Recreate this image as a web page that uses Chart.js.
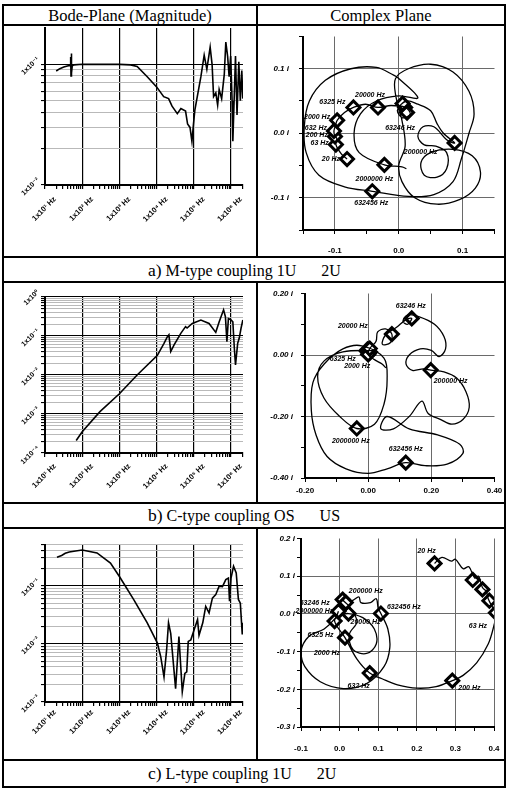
<!DOCTYPE html>
<html>
<head>
<meta charset="utf-8">
<script src="https://cdn.jsdelivr.net/npm/chart.js@4.4.0/dist/chart.umd.min.js"></script>
<style>
  body { margin: 0; background: #fff; width: 507px; height: 789px; position: relative; overflow: hidden;
         font-family: "Liberation Serif", "Times New Roman", serif; }
  .ln { position: absolute; background: #000; }
  .hd { position: absolute; font-size: 16.5px; line-height: 19px; text-align: center; top: 6px; }
  .cap { position: absolute; left: 148px; font-size: 16px; line-height: 20px; white-space: nowrap; }
  .cap b { font-weight: normal; font-size: 17.5px; }
  .cap span { margin-left: 25px; }
  canvas { position: absolute; }
</style>
</head>
<body>
<!-- frame -->
<div class="ln" style="left:2px;top:4px;width:504px;height:2px"></div>
<div class="ln" style="left:2px;top:24px;width:504px;height:2px"></div>
<div class="ln" style="left:2px;top:256px;width:504px;height:2px"></div>
<div class="ln" style="left:2px;top:281px;width:504px;height:2px"></div>
<div class="ln" style="left:2px;top:502px;width:504px;height:2px"></div>
<div class="ln" style="left:2px;top:527px;width:504px;height:2px"></div>
<div class="ln" style="left:2px;top:759px;width:504px;height:2px"></div>
<div class="ln" style="left:2px;top:786px;width:504px;height:2px"></div>
<div class="ln" style="left:2px;top:4px;width:2px;height:784px"></div>
<div class="ln" style="left:504px;top:4px;width:2px;height:784px"></div>
<div class="ln" style="left:256px;top:4px;width:2px;height:254px"></div>
<div class="ln" style="left:256px;top:281px;width:2px;height:223px"></div>
<div class="ln" style="left:256px;top:527px;width:2px;height:234px"></div>

<div class="hd" style="left:4px;width:252px">Bode-Plane (Magnitude)</div>
<div class="hd" style="left:258px;width:246px">Complex Plane</div>
<div class="cap" style="top:260px"><b>a)</b> M-type coupling 1U<span>2U</span></div>
<div class="cap" style="top:505px"><b>b)</b> C-type coupling OS<span>US</span></div>
<div class="cap" style="top:763px"><b>c)</b> L-type coupling 1U<span>2U</span></div>

<canvas id="bodeA" width="252" height="229" style="left:4px;top:27px"></canvas>
<canvas id="planeA" width="246" height="229" style="left:258px;top:27px"></canvas>
<canvas id="bodeB" width="252" height="218" style="left:4px;top:284px"></canvas>
<canvas id="planeB" width="246" height="218" style="left:258px;top:284px"></canvas>
<canvas id="bodeC" width="252" height="230" style="left:4px;top:529px"></canvas>
<canvas id="planeC" width="246" height="230" style="left:258px;top:529px"></canvas>

<script>
// ---- Bode magnitude data (Hz, |Z|) ----
const freqA = [20, 25, 32, 40, 47, 49, 50, 51, 52, 54, 60, 100, 300, 1000, 2000, 3000, 5600, 10000, 15500, 21000,
  26000, 36000, 45000, 60000, 68000, 79000, 89000, 98000, 107000, 155000, 190000, 224000, 275000, 310000, 340000,
  390000, 437000, 480000, 560000, 660000, 725000, 810000, 890000, 980000, 1070000, 1120000, 1320000, 1450000,
  1620000, 1780000, 1950000, 2080000];
const magA = [0.088, 0.092, 0.095, 0.097, 0.098, 0.115, 0.080, 0.123, 0.085, 0.097, 0.099, 0.100, 0.100, 0.100, 0.099,
  0.096, 0.079, 0.065, 0.054, 0.052, 0.045, 0.039, 0.043, 0.041, 0.032, 0.030, 0.023, 0.032, 0.042, 0.079, 0.119,
  0.091, 0.139, 0.100, 0.054, 0.058, 0.046, 0.062, 0.052, 0.083, 0.153, 0.117, 0.079, 0.117, 0.050, 0.023, 0.117,
  0.038, 0.105, 0.050, 0.089, 0.052];

const freqB = [69, 100, 300, 1000, 3000, 10500, 15800, 19500, 21400, 24000, 29500, 44700, 60000, 66000, 91000,
  155000, 257000, 389000, 479000, 631000, 708000, 776000, 851000, 1000000, 1120000, 1230000, 1320000, 1510000,
  1660000, 1860000, 2080000];
const magB = [0.00021, 0.00035, 0.00115, 0.0033, 0.010, 0.032, 0.065, 0.096, 0.107, 0.040, 0.059, 0.117, 0.174,
  0.160, 0.210, 0.257, 0.210, 0.124, 0.230, 0.470, 0.310, 0.071, 0.280, 0.260, 0.230, 0.048, 0.018, 0.065, 0.087,
  0.158, 0.257];

const freqC = [21, 28, 35, 45, 60, 100, 250, 575, 1020, 2450, 5600, 10500, 12900, 15800, 18600, 20900, 24000, 32400,
  39800, 49000, 57500, 64600, 70800, 83200, 102000, 126000, 138000, 174000, 209000, 257000, 316000, 389000, 479000,
  589000, 724000, 851000, 912000, 1000000, 1170000, 1380000, 1580000, 1780000, 2000000, 2090000];
const magC = [0.307, 0.33, 0.36, 0.38, 0.39, 0.41, 0.365, 0.245, 0.141, 0.057, 0.023, 0.0103, 0.006, 0.0027, 0.0079,
  0.023, 0.015, 0.0017, 0.0134, 0.0015, 0.0031, 0.0033, 0.011, 0.0117, 0.0174, 0.026, 0.014, 0.023, 0.044, 0.034,
  0.061, 0.070, 0.098, 0.096, 0.127, 0.135, 0.054, 0.135, 0.215, 0.165, 0.058, 0.050, 0.015, 0.023];

const decadeTicks = [10, 100, 1000, 10000, 100000, 1000000];
const decadeLabels = ['1x10¹ Hz', '1x10² Hz', '1x10³ Hz', '1x10⁴ Hz', '1x10⁵ Hz', '1x10⁶ Hz'];
const magDecA = [0.01, 0.1];
const magLabA = ['1x10⁻²', '1x10⁻¹'];
const magDecB = [0.0001, 0.001, 0.01, 0.1, 1];
const magLabB = ['1x10⁻⁴', '1x10⁻³', '1x10⁻²', '1x10⁻¹', '1x10⁰'];
const magDecC = [0.001, 0.01, 0.1];
const magLabC = ['1x10⁻³', '1x10⁻²', '1x10⁻¹'];

// ---- Complex plane data (Re, Im) ----
const reA = [-0.081, -0.090, -0.0985, -0.097, -0.100, -0.1015, -0.099, -0.0965, -0.085, -0.071, -0.052, -0.0325,
  -0.012, 0.010, 0.018, 0.006, -0.002, 0.012, 0.030, 0.050, 0.060, 0.070, 0.0875, 0.075, 0.055, 0.038, 0.030, 0.040,
  0.058, 0.075, 0.075, 0.060, 0.040, 0.035, 0.050, 0.085, 0.115, 0.128, 0.120, 0.095, 0.060, 0.025, 0.005, 0.000,
  0.010, 0.005, -0.005, -0.005, 0.015, 0.050, 0.085, 0.110, 0.118, 0.110, 0.098, 0.085, 0.055, 0.015, -0.0415,
  -0.085, -0.125, -0.145, -0.148, -0.140, -0.115, -0.075, -0.035, -0.008, 0.000, 0.030, 0.000, -0.035, -0.060,
  -0.070, -0.062, -0.0225, 0.005, 0.012];
const imA = [-0.040, -0.032, -0.0175, -0.008, -0.005, 0.0035, 0.012, 0.020, 0.032, 0.040, 0.045, 0.040, 0.043, 0.040,
  0.030, 0.024, 0.036, 0.050, 0.045, 0.035, 0.015, 0.000, -0.015, -0.010, 0.010, 0.010, -0.005, -0.018, -0.020,
  -0.030, -0.055, -0.068, -0.065, -0.045, -0.030, -0.025, -0.035, -0.060, -0.085, -0.103, -0.110, -0.100, -0.075,
  -0.050, -0.020, 0.020, 0.060, 0.085, 0.100, 0.107, 0.095, 0.065, 0.030, 0.000, -0.040, -0.075, -0.095, -0.098,
  -0.090, -0.083, -0.065, -0.030, 0.010, 0.050, 0.082, 0.100, 0.102, 0.090, 0.085, 0.055, 0.058, 0.050, 0.030,
  0.000, -0.030, -0.049, -0.052, -0.055];
const mkLabA = ['20 Hz', '63 Hz', '200 Hz', '632 Hz', '2000 Hz', '6325 Hz', '20000 Hz', '63246 Hz', '200000 Hz',
  '632456 Hz', '2000000 Hz', '', ''];
const mkReA = [-0.081, -0.0985, -0.100, -0.1015, -0.0965, -0.071, -0.0325, 0.010, 0.0875, -0.0415, -0.0225, 0.013, 0.006];
const mkImA = [-0.040, -0.0175, -0.005, 0.0035, 0.020, 0.040, 0.040, 0.040, -0.015, -0.090, -0.049, 0.032, 0.046];

const reB = [0.056, 0.045, 0.020, 0.000, 0.005, 0.025, 0.030, 0.055, 0.075, 0.070, 0.045, 0.055, 0.090, 0.120, 0.138,
  0.125, 0.110, 0.125, 0.160, 0.210, 0.240, 0.245, 0.225, 0.200, 0.165, 0.130, 0.120, 0.140, 0.175, 0.198, 0.240,
  0.280, 0.310, 0.320, 0.300, 0.265, 0.230, 0.190, 0.170, 0.130, 0.080, 0.040, 0.060, 0.130, 0.220, 0.290, 0.300,
  0.250, 0.180, 0.119, 0.060, 0.000, -0.070, -0.130, -0.165, -0.180, -0.175, -0.140, -0.080, -0.020, 0.050, 0.060,
  0.050, 0.020, -0.036, -0.090, -0.140, -0.160, -0.140, -0.080, 0.020];
const imB = [-0.042, -0.030, -0.015, 0.002, 0.021, 0.045, 0.075, 0.085, 0.068, 0.040, 0.035, 0.065, 0.090, 0.115,
  0.119, 0.100, 0.110, 0.130, 0.125, 0.100, 0.060, 0.020, -0.005, 0.015, 0.020, 0.000, -0.030, -0.050, -0.045,
  -0.049, -0.055, -0.075, -0.120, -0.170, -0.210, -0.225, -0.210, -0.190, -0.150, -0.200, -0.240, -0.240, -0.200,
  -0.240, -0.260, -0.290, -0.320, -0.355, -0.360, -0.350, -0.370, -0.385, -0.370, -0.330, -0.260, -0.180, -0.090,
  -0.030, 0.020, 0.030, -0.010, -0.080, -0.160, -0.225, -0.239, -0.200, -0.140, -0.070, -0.020, 0.010, 0.015];
const mkLabB = ['', '', '', '', '2000 Hz', '6325 Hz', '20000 Hz', '63246 Hz', '200000 Hz', '632456 Hz', '2000000 Hz'];
const mkReB = [-0.004, 0.006, -0.002, 0.003, 0.000, 0.005, 0.075, 0.138, 0.198, 0.119, -0.036];
const mkImB = [0.012, 0.010, 0.018, 0.008, 0.002, 0.021, 0.068, 0.119, -0.049, -0.350, -0.239];

const reC = [0.246, 0.265, 0.290, 0.300, 0.320, 0.335, 0.350, 0.360, 0.370, 0.380, 0.385, 0.395, 0.405, 0.400, 0.385,
  0.355, 0.320, 0.292, 0.250, 0.200, 0.150, 0.110, 0.078, 0.045, 0.014, -0.013, 0.000, 0.023, 0.060, 0.090, 0.095,
  0.070, 0.035, 0.025, 0.045, 0.025, 0.008, 0.016, 0.030, 0.050, 0.055, 0.080, 0.095, 0.100, 0.107, 0.125, 0.130,
  0.115, 0.070, 0.010, -0.050, -0.090, -0.100, -0.080, -0.040, -0.010, -0.003];
const imC = [0.134, 0.150, 0.140, 0.145, 0.120, 0.125, 0.095, 0.100, 0.070, 0.060, 0.040, 0.020, 0.003, -0.030,
  -0.080, -0.130, -0.163, -0.177, -0.193, -0.197, -0.188, -0.172, -0.157, -0.120, -0.063, -0.019, -0.005, 0.001,
  -0.010, -0.040, -0.080, -0.105, -0.095, -0.055, -0.020, 0.020, 0.038, 0.046, 0.035, 0.045, 0.030, 0.030, 0.040,
  0.015, 0.001, -0.040, -0.090, -0.140, -0.185, -0.198, -0.180, -0.140, -0.100, -0.060, -0.040, -0.010, 0.007];
const mkLabC = ['20 Hz', '', '', '', '63 Hz', '200 Hz', '632 Hz', '2000 Hz', '6325 Hz', '20000 Hz', '63246 Hz',
  '200000 Hz', '632456 Hz', '2000000 Hz'];
const mkReC = [0.246, 0.345, 0.370, 0.388, 0.405, 0.292, 0.078, 0.014, -0.013, 0.023, 0.008, 0.016, 0.107, -0.003];
const mkImC = [0.134, 0.090, 0.065, 0.035, 0.003, -0.177, -0.157, -0.063, -0.019, 0.001, 0.038, 0.030, 0.001, 0.007];

// axis ticks of the complex planes
const reTicksA = [-0.15, -0.1, -0.05, 0, 0.05, 0.1, 0.15];
const imTicksA = [-0.15, -0.1, -0.05, 0, 0.05, 0.1, 0.15];
const reLabValA = [-0.1, 0, 0.1], reLabA = ['-0.1', '0.0', '0.1'];
const imLabValA = [-0.1, 0, 0.1], imLabA = ['-0.1 i', '0.0 i', '0.1 i'];
const reTicksB = [-0.2, -0.1, 0, 0.1, 0.2, 0.3, 0.4];
const imTicksB = [-0.4, -0.3, -0.2, -0.1, 0, 0.1, 0.2];
const reLabValB = [-0.2, 0, 0.2, 0.4], reLabB = ['-0.20', '0.00', '0.20', '0.40'];
const imLabValB = [-0.4, -0.2, 0, 0.2], imLabB = ['-0.40 i', '-0.20 i', '0.00 i', '0.20 i'];
const reTicksC = [-0.1, -0.05, 0, 0.05, 0.1, 0.15, 0.2, 0.25, 0.3, 0.35, 0.4];
const imTicksC = [-0.3, -0.25, -0.2, -0.15, -0.1, -0.05, 0, 0.05, 0.1, 0.15, 0.2];
const reLabValC = [-0.1, 0, 0.1, 0.2, 0.3, 0.4], reLabC = ['-0.1', '0.0', '0.1', '0.2', '0.3', '0.4'];
const imLabValC = [-0.3, -0.2, -0.1, 0, 0.1, 0.2], imLabC = ['-0.3 i', '-0.2 i', '-0.1 i', '0.0 i', '0.1 i', '0.2 i'];

// marker label placement [dx, dy, align] (px)
const mkPosA = [[-7, 0, 'right'], [-7, -1, 'right'], [-7, -1, 'right'], [-7, -3, 'right'], [-7, -3, 'right'],
  [-8, -5, 'right'], [-8, -12, 'center'], [-5, 21, 'center'], [-17, 9, 'right'], [-1, 12, 'center'],
  [-10, 14, 'center'], null, null];
const mkPosB = [null, null, null, null, [-11, 12, 'center'], [-14, 11, 'right'], [-24, -8, 'right'],
  [-1, -12, 'center'], [3, 11, 'left'], [0, -14, 'center'], [-6, 13, 'center']];
const mkPosC = [[-8, -12, 'center'], null, null, null, [-18, 13, 'center'], [6, 7, 'left'], [-11, 13, 'center'],
  [-18, 15, 'center'], [-14, 14, 'center'], [17, 9, 'center'], [-28, 3, 'center'], [20, -12, 'center'],
  [23, -6, 'center'], [-24, 0, 'center']];

const SANS = '"Liberation Sans", Arial, "DejaVu Sans", sans-serif';

function same(a, b) { return Math.abs(a - b) < 1e-9 + 1e-6 * Math.abs(b); }
function labelFor(v, vals, labs) {
  const i = vals.findIndex(x => same(v, x));
  return i < 0 ? '' : labs[i];
}
function minorLog(min, max) {
  const out = [];
  for (let e = Math.floor(Math.log10(min)); e <= Math.ceil(Math.log10(max)); e++) {
    for (let k = 1; k <= 9; k++) {
      const v = +(k * Math.pow(10, e)).toPrecision(6);
      if (v >= min * (1 - 1e-9) && v <= max * (1 + 1e-9)) out.push(v);
    }
  }
  return out;
}
function isDecade(c) {
  if (!c.tick) return true;
  const l = Math.log10(c.tick.value);
  return Math.abs(l - Math.round(l)) < 1e-6;
}
function onGrid(c, list) {
  return c.tick ? list.some(g => same(c.tick.value, g)) : false;
}
// pin axis size so the plot area lands where it should
function fixAxis(size) {
  return (scale) => {
    if (scale.isHorizontal()) scale.height = size; else scale.width = size;
    scale.paddingLeft = scale.paddingRight = scale.paddingTop = scale.paddingBottom = 0;
  };
}

// labels next to the diamond markers
const markerLabels = {
  id: 'markerLabels',
  afterDatasetsDraw(chart, args, opts) {
    if (!opts || !opts.text) return;
    const { ctx } = chart;
    const x = chart.scales.x, y = chart.scales.y;
    ctx.save();
    ctx.font = 'italic bold 7px ' + SANS;
    ctx.fillStyle = '#000';
    ctx.textBaseline = 'middle';
    opts.text.forEach((t, i) => {
      const p = opts.place[i];
      if (!t || !p) return;
      ctx.textAlign = p[2];
      ctx.fillText(t, x.getPixelForValue(opts.re[i]) + p[0], y.getPixelForValue(opts.im[i]) + p[1]);
    });
    ctx.restore();
  }
};
Chart.register(markerLabels);

function bodeChart(id, freq, mag, yMin, yMax, gridMax, yDec, yLab, box) {
  const yTicks = minorLog(yMin, gridMax);
  const xTicks = minorLog(10, 2.1e6);
  new Chart(document.getElementById(id), {
    type: 'scatter',
    data: {
      datasets: [{
        data: freq.map((f, i) => ({ x: f, y: mag[i] })),
        showLine: true, borderColor: '#000', borderWidth: 1.6, pointRadius: 0, tension: 0
      }]
    },
    options: {
      animation: false, responsive: false, devicePixelRatio: 1,
      layout: { padding: { left: 0, top: box.top, right: box.right, bottom: 0 } },
      plugins: { legend: { display: false }, tooltip: { enabled: false }, markerLabels: false },
      scales: {
        x: {
          type: 'logarithmic', min: 10, max: 2.1e6,
          afterBuildTicks: s => { s.ticks = xTicks.map(v => ({ value: v })); },
          afterFit: fixAxis(box.xh),
          grid: { color: c => isDecade(c) ? '#000' : 'rgba(0,0,0,0)', tickColor: '#000',
                  lineWidth: 1.2, tickLength: 4 },
          border: { color: '#000', width: 2 },
          ticks: { autoSkip: false, minRotation: 45, maxRotation: 45, padding: box.xpad, labelOffset: 10,
                   color: '#000', font: { family: SANS, size: 7.5, weight: 'bold' },
                   callback: v => labelFor(v, decadeTicks, decadeLabels) }
        },
        y: {
          type: 'logarithmic', min: yMin, max: yMax,
          afterBuildTicks: s => { s.ticks = yTicks.map(v => ({ value: v })); },
          afterFit: fixAxis(box.yw),
          grid: { color: c => isDecade(c) ? '#000' : '#b9b9b9', tickColor: '#000',
                  lineWidth: 1.1, tickLength: 4 },
          border: { color: '#000', width: 2 },
          ticks: { autoSkip: false, minRotation: 45, maxRotation: 50, padding: 3, labelOffset: -6,
                   color: '#000', font: { family: SANS, size: 7, weight: 'bold' },
                   callback: v => labelFor(v, yDec, yLab) }
        }
      }
    }
  });
}

function planeChart(id, re, im, mk, ax, box) {
  new Chart(document.getElementById(id), {
    type: 'scatter',
    data: {
      datasets: [{
        data: re.map((r, i) => ({ x: r, y: im[i] })),
        showLine: true, borderColor: '#000', borderWidth: 1.3, pointRadius: 0, tension: 0.35
      }, {
        data: mk.re.map((r, i) => ({ x: r, y: mk.im[i] })),
        showLine: false, pointStyle: 'rectRot', pointRadius: 6.5, borderWidth: 3,
        borderColor: '#000', backgroundColor: '#fff'
      }]
    },
    options: {
      animation: false, responsive: false, devicePixelRatio: 1,
      layout: { padding: { left: 0, top: box.top, right: box.right, bottom: 0 } },
      plugins: { legend: { display: false }, tooltip: { enabled: false },
                 markerLabels: { re: mk.re, im: mk.im, text: mk.text, place: mk.place } },
      scales: {
        x: {
          type: 'linear', min: ax.xTicks[0], max: ax.xTicks[ax.xTicks.length - 1],
          afterBuildTicks: s => { s.ticks = ax.xTicks.map(v => ({ value: v })); },
          afterFit: fixAxis(box.xh),
          grid: { color: c => onGrid(c, ax.xGrid) ? '#6a6a6a' : 'rgba(0,0,0,0)',
                  tickColor: '#000', lineWidth: 1, tickLength: 4 },
          border: { color: '#000', width: 2 },
          ticks: { autoSkip: false, maxRotation: 0, padding: box.xpad, color: '#000',
                   font: { family: SANS, size: 8, weight: 'bold' },
                   callback: v => labelFor(v, ax.xLabVal, ax.xLab) }
        },
        y: {
          type: 'linear', min: ax.yTicks[0], max: ax.yTicks[ax.yTicks.length - 1],
          afterBuildTicks: s => { s.ticks = ax.yTicks.map(v => ({ value: v })); },
          afterFit: fixAxis(box.yw),
          grid: { color: c => onGrid(c, ax.yGrid) ? '#6a6a6a' : 'rgba(0,0,0,0)',
                  tickColor: '#000', lineWidth: 1, tickLength: 4 },
          border: { color: '#000', width: 2 },
          ticks: { autoSkip: false, padding: box.ypad, color: '#000',
                   font: { family: SANS, size: 8, weight: 'bold', style: 'italic' },
                   callback: v => labelFor(v, ax.yLabVal, ax.yLab) }
        }
      }
    }
  });
}

bodeChart('bodeA', freqA, magA, 0.01, 0.2, 0.1, magDecA, magLabA, { top: 1, right: 13, xh: 71, yw: 41, xpad: 6 });
bodeChart('bodeB', freqB, magB, 0.0001, 1, 1, magDecB, magLabB, { top: 13, right: 13, xh: 49, yw: 41, xpad: 5 });
bodeChart('bodeC', freqC, magC, 0.001, 0.5, 0.5, magDecC, magLabC, { top: 16, right: 13, xh: 57, yw: 41, xpad: 2 });

planeChart('planeA', reA, imA,
  { re: mkReA, im: mkImA, text: mkLabA, place: mkPosA },
  { xTicks: reTicksA, yTicks: imTicksA, xGrid: [-0.1, 0, 0.1], yGrid: [-0.1, 0, 0.1],
    xLabVal: reLabValA, xLab: reLabA, yLabVal: imLabValA, yLab: imLabA },
  { top: 1, right: 0, xh: 26, yw: 45, xpad: 12, ypad: 10 });
planeChart('planeB', reB, imB,
  { re: mkReB, im: mkImB, text: mkLabB, place: mkPosB },
  { xTicks: reTicksB, yTicks: imTicksB, xGrid: [0, 0.2], yGrid: [-0.2, 0],
    xLabVal: reLabValB, xLab: reLabB, yLabVal: imLabValB, yLab: imLabB },
  { top: 4, right: 9, xh: 24, yw: 47, xpad: 4, ypad: 8 });
planeChart('planeC', reC, imC,
  { re: mkReC, im: mkImC, text: mkLabC, place: mkPosC },
  { xTicks: reTicksC, yTicks: imTicksC, xGrid: [0, 0.1, 0.2, 0.3, 0.4], yGrid: [-0.2, -0.1, 0, 0.1],
    xLabVal: reLabValC, xLab: reLabC, yLabVal: imLabValC, yLab: imLabC },
  { top: 6, right: 10, xh: 32, yw: 43, xpad: 13, ypad: 2 });
</script>
</body>
</html>
